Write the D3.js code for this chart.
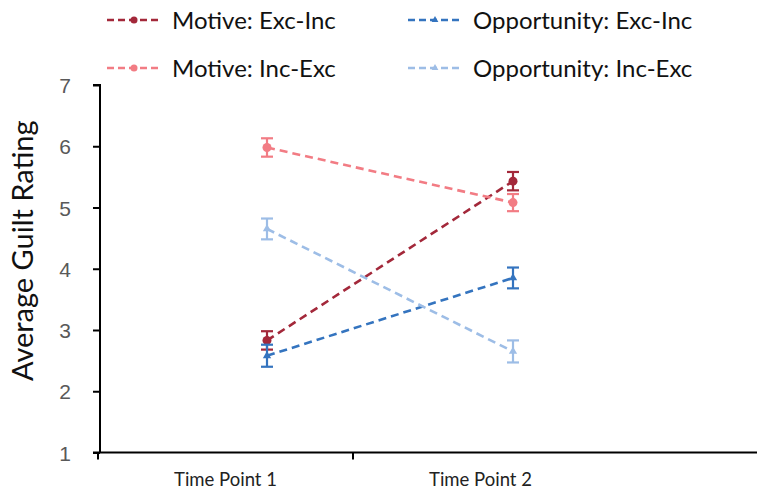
<!DOCTYPE html>
<html>
<head>
<meta charset="utf-8">
<script src="https://cdn.jsdelivr.net/npm/d3@7"></script>
<style>
  body { margin: 0; background: #fff; }
  svg { font-family: Lato, "Open Sans", sans-serif; }
</style>
</head>
<body>
<div class="wrapper"></div>
<script>
// chart data
var categories = ["Time Point 1", "Time Point 2"];
var seriesNames = ["Motive: Exc-Inc", "Motive: Inc-Exc", "Opportunity: Exc-Inc", "Opportunity: Inc-Exc"];
var motiveExcInc = [2.83, 5.43];
var motiveIncExc = [5.98, 5.08];
var oppExcInc = [2.58, 3.85];
var oppIncExc = [4.65, 2.65];
var motiveExcIncErr = [0.15, 0.15];
var motiveIncExcErr = [0.15, 0.14];
var oppExcIncErr = [0.18, 0.17];
var oppIncExcErr = [0.17, 0.18];
var yTicks = [1, 2, 3, 4, 5, 6, 7];

var colors = ["#a3283a", "#f27c84", "#3474bf", "#9dbde6"];
var shapes = ["circle", "circle", "triangle", "triangle"];

var width = 757, height = 492;
var margin = { left: 100, top: 85, bottom: 40 };

var series = [motiveExcInc, motiveIncExc, oppExcInc, oppIncExc].map(function(vals, i) {
  var errs = [motiveExcIncErr, motiveIncExcErr, oppExcIncErr, oppIncExcErr][i];
  return {
    name: seriesNames[i],
    color: colors[i],
    shape: shapes[i],
    values: vals.map(function(v, j) { return { cat: categories[j], value: v, err: errs[j] }; })
  };
});

var svg = d3.select(".wrapper").append("svg")
  .attr("width", width)
  .attr("height", height);

var yScale = d3.scaleLinear().domain([1, 7]).range([452.5, margin.top]);
// category bands for the axis, and point positions for the data marks
var xBand = d3.scaleBand().domain(categories).range([98, 608]);
var xPoint = d3.scalePoint().domain(categories).range([267, 513]);

// y axis
var yAxis = svg.append("g")
  .attr("transform", "translate(" + margin.left + ",0)")
  .call(d3.axisLeft(yScale).tickValues(yTicks).tickSize(7).tickPadding(22).tickFormat(d3.format("d")));
yAxis.select(".domain").attr("stroke", "#000").attr("stroke-width", 2).attr("d", "M-7," + yScale(7) + "H0V" + yScale(1));
yAxis.selectAll(".tick line").attr("stroke", "#000").attr("stroke-width", 2);
yAxis.selectAll(".tick text").attr("fill", "#595959").style("font-size", "21px").attr("dy", "0.36em");

// x axis with ticks at the category boundaries
var xg = svg.append("g").attr("transform", "translate(0," + yScale(1) + ")");
xg.append("line")
  .attr("x1", 93).attr("x2", width)
  .attr("stroke", "#000").attr("stroke-width", 2);
xg.selectAll(".xtick").data(categories).enter().append("line")
  .attr("class", "xtick")
  .attr("x1", function(d) { return xBand(d); }).attr("x2", function(d) { return xBand(d); })
  .attr("y1", 0).attr("y2", 7)
  .attr("stroke", "#000").attr("stroke-width", 2);
xg.selectAll(".xlabel").data(categories).enter().append("text")
  .attr("class", "xlabel")
  .attr("x", function(d) { return xBand(d) + xBand.bandwidth() / 2; })
  .attr("y", 33)
  .attr("text-anchor", "middle")
  .attr("fill", "#222")
  .style("font-size", "18.5px")
  .text(function(d) { return d; });

// y axis title
svg.append("text")
  .attr("transform", "translate(33," + ((yScale(1) + yScale(7)) / 2 - 18) + ") rotate(-90)")
  .attr("text-anchor", "middle")
  .attr("fill", "#111")
  .style("font-size", "29px")
  .text("Average Guilt Rating");

var line = d3.line()
  .x(function(d) { return xPoint(d.cat); })
  .y(function(d) { return yScale(d.value); });

var triangle = d3.symbol().type(d3.symbolTriangle).size(30);

function drawMarker(sel, s) {
  if (s.shape === "circle") {
    sel.append("circle").attr("r", 4.5).attr("fill", s.color);
  } else {
    sel.append("path").attr("d", triangle).attr("fill", s.color);
  }
}

var seriesG = svg.selectAll(".series").data(series).enter().append("g").attr("class", "series");

seriesG.append("path")
  .attr("d", function(d) { return line(d.values); })
  .attr("fill", "none")
  .attr("stroke", function(d) { return d.color; })
  .attr("stroke-width", 2.6)
  .attr("stroke-dasharray", "8,5");

seriesG.each(function(s) {
  var g = d3.select(this);
  s.values.forEach(function(d) {
    var x = xPoint(d.cat);
    var eg = g.append("g").attr("stroke", s.color).attr("stroke-width", 2.2);
    eg.append("line").attr("x1", x).attr("x2", x).attr("y1", yScale(d.value - d.err)).attr("y2", yScale(d.value + d.err));
    eg.append("line").attr("x1", x - 6).attr("x2", x + 6).attr("y1", yScale(d.value + d.err)).attr("y2", yScale(d.value + d.err));
    eg.append("line").attr("x1", x - 6).attr("x2", x + 6).attr("y1", yScale(d.value - d.err)).attr("y2", yScale(d.value - d.err));
    var mg = g.append("g").attr("transform", "translate(" + x + "," + yScale(d.value) + ")");
    drawMarker(mg, s);
  });
});

// legend: two columns, two rows
var legendPos = [[107, 20], [107, 68], [408, 20], [408, 68]];
var legend = svg.selectAll(".legend").data(series).enter().append("g")
  .attr("class", "legend")
  .attr("transform", function(d, i) { return "translate(" + legendPos[i][0] + "," + legendPos[i][1] + ")"; });
legend.append("line")
  .attr("x1", 0).attr("x2", 54)
  .attr("stroke", function(d) { return d.color; })
  .attr("stroke-width", 2.6)
  .attr("stroke-dasharray", "7,4");
legend.each(function(s) {
  var mg = d3.select(this).append("g").attr("transform", "translate(27,0)");
  if (s.shape === "circle") {
    mg.append("circle").attr("r", 3.5).attr("fill", s.color);
  } else {
    mg.append("path").attr("d", d3.symbol().type(d3.symbolTriangle).size(20)).attr("fill", s.color);
  }
});
legend.append("text")
  .attr("x", 65)
  .attr("dy", "0.36em")
  .attr("fill", "#111")
  .style("font-size", "24px")
  .text(function(d) { return d.name; });
</script>
</body>
</html>
